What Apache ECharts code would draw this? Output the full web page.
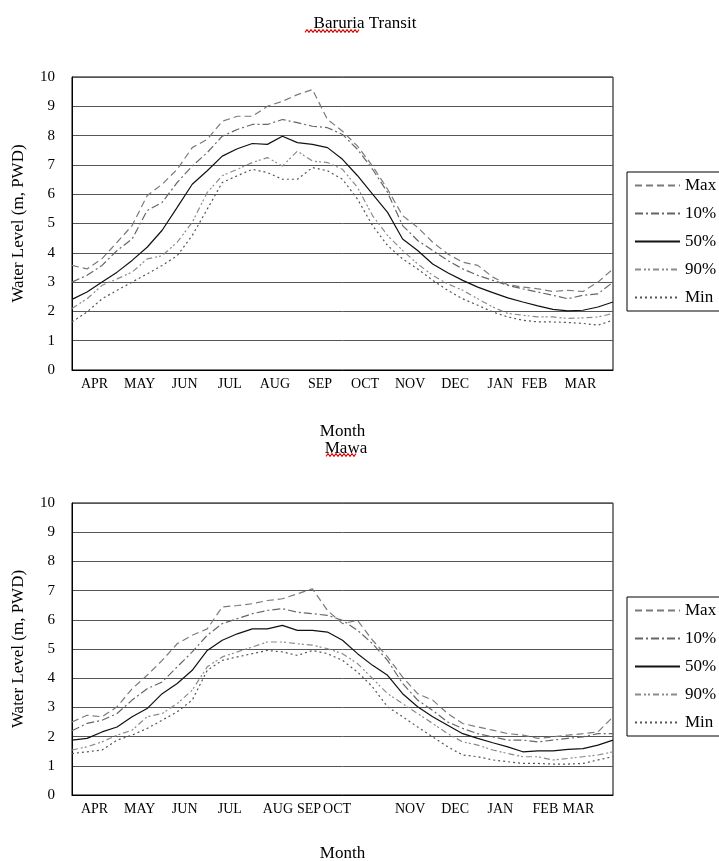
<!DOCTYPE html>
<html>
<head>
<meta charset="utf-8">
<script src="https://cdn.jsdelivr.net/npm/echarts@6/dist/echarts.min.js"></script>
<style>html,body{margin:0;background:#fff}#chart{width:719px;height:861px}</style>
</head>
<body>
<div id="chart"></div>
<script>
var months = ['APR','MAY','JUN','JUL','AUG','SEP','OCT','NOV','DEC','JAN','FEB','MAR'];
// readings every third of a month from 1 April
var steps = [0,1,2,3,4,5,6,7,8,9,10,11,12,13,14,15,16,17,18,19,20,21,22,23,24,25,26,27,28,29,30,31,32,33,34,35,36];
var seriesNames = ['Max','10%','50%','90%','Min'];

// Baruria Transit
var baruriaMax = [3.57,3.45,3.8,4.36,4.93,5.95,6.34,6.85,7.59,7.87,8.49,8.66,8.66,9.0,9.17,9.4,9.57,8.55,8.15,7.64,6.96,6.17,5.27,4.87,4.36,3.96,3.68,3.57,3.17,2.91,2.83,2.77,2.68,2.72,2.68,3.0,3.45];
var baruria10 = [3.0,3.23,3.57,4.08,4.47,5.44,5.72,6.4,6.96,7.42,7.98,8.21,8.38,8.38,8.55,8.44,8.32,8.27,8.04,7.53,6.85,6.06,4.93,4.42,4.08,3.74,3.45,3.23,3.06,2.89,2.77,2.66,2.55,2.43,2.55,2.6,3.0];
var baruria50 = [2.41,2.66,3.0,3.34,3.74,4.19,4.77,5.55,6.34,6.8,7.3,7.55,7.73,7.7,7.98,7.76,7.7,7.59,7.19,6.63,6.0,5.38,4.47,4.08,3.62,3.32,3.06,2.83,2.64,2.46,2.32,2.19,2.07,2.02,2.04,2.15,2.32];
var baruria90 = [2.1,2.43,2.89,3.11,3.34,3.79,3.9,4.36,5.04,6.06,6.63,6.85,7.08,7.25,6.96,7.47,7.13,7.08,6.85,6.23,5.27,4.59,4.08,3.62,3.23,2.94,2.72,2.43,2.15,1.93,1.87,1.81,1.81,1.76,1.78,1.81,1.93];
var baruriaMin = [1.64,1.98,2.43,2.72,3.0,3.28,3.57,3.9,4.59,5.49,6.4,6.63,6.85,6.74,6.51,6.51,6.91,6.8,6.51,5.83,4.93,4.25,3.79,3.45,3.06,2.72,2.43,2.21,1.98,1.81,1.7,1.64,1.64,1.62,1.59,1.53,1.7];

// Mawa
var mawaMax = [2.5,2.73,2.68,3.02,3.64,4.1,4.61,5.18,5.47,5.69,6.44,6.49,6.55,6.66,6.72,6.89,7.06,6.32,5.87,5.98,5.3,4.73,4.04,3.47,3.25,2.79,2.45,2.33,2.22,2.1,2.05,1.94,1.99,2.05,2.1,2.16,2.68];
var mawa10 = [2.2,2.45,2.56,2.79,3.25,3.64,3.87,4.39,4.9,5.47,5.87,6.04,6.21,6.32,6.38,6.26,6.21,6.15,5.98,5.64,5.18,4.61,3.82,3.25,2.9,2.5,2.28,2.1,1.99,1.88,1.88,1.82,1.88,1.94,1.99,2.1,2.1];
var mawa50 = [1.88,1.94,2.16,2.33,2.68,2.96,3.47,3.82,4.27,4.95,5.3,5.52,5.69,5.69,5.81,5.64,5.64,5.58,5.3,4.84,4.44,4.1,3.47,3.02,2.68,2.39,2.1,1.94,1.79,1.65,1.48,1.51,1.51,1.56,1.59,1.71,1.88];
var mawa90 = [1.54,1.65,1.82,2.05,2.22,2.68,2.79,3.13,3.59,4.39,4.73,4.9,5.07,5.24,5.24,5.18,5.13,5.01,4.84,4.5,3.99,3.47,3.13,2.79,2.45,2.1,1.82,1.71,1.54,1.42,1.31,1.31,1.2,1.25,1.31,1.37,1.48];
var mawaMin = [1.42,1.48,1.54,1.88,2.05,2.28,2.56,2.85,3.25,4.27,4.61,4.73,4.84,4.95,4.9,4.78,4.95,4.84,4.61,4.21,3.7,3.02,2.68,2.33,1.99,1.65,1.37,1.31,1.2,1.14,1.08,1.08,1.06,1.06,1.08,1.2,1.31];

// month labels are nudged left (px) like in the original figure
var topShift = [0,0,0,0,0,0,0,0,0,0,11,10];
var bottomShift = [0,0,0,0,-3,11,28,0,0,0,0,12];

var serif = '"Liberation Serif", "Times New Roman", serif';
var styles = {
    'Max': {color: '#7a7a7a', type: [7, 4]},
    '10%': {color: '#666', type: [8, 3, 2, 3]},
    '50%': {color: '#111', type: 'solid'},
    '90%': {color: '#8a8a8a', type: [6, 3, 2, 2, 2, 3]},
    'Min': {color: '#555', type: [2, 3]}
};

function labels(shift) {
    return months.map(function (m, i) {
        var s = shift[i];
        if (!s) return m;
        return {value: m, textStyle: {padding: s > 0 ? [0, 2 * s, 0, 0] : [0, 0, 0, -2 * s]}};
    });
}

function lines(values, xi, yi) {
    return seriesNames.map(function (name, i) {
        return {
            name: name, type: 'line', xAxisIndex: xi, yAxisIndex: yi,
            symbol: 'none', animation: false,
            lineStyle: {color: styles[name].color, width: 1.2, type: styles[name].type},
            itemStyle: {color: styles[name].color},
            data: steps.map(function (s, k) { return [s, values[i][k]]; })
        };
    });
}

function monthAxis(grid, shift, gap) {
    return {
        gridIndex: grid, type: 'category', data: labels(shift), boundaryGap: true,
        axisLine: {lineStyle: {color: '#000', width: 1}},
        axisTick: {inside: true, length: 5, lineStyle: {color: '#000'}},
        axisLabel: {color: '#000', fontFamily: serif, fontSize: 14, margin: 7, interval: 0},
        name: 'Month', nameLocation: 'middle', nameGap: gap,
        nameTextStyle: {color: '#000', fontFamily: serif, fontSize: 17}
    };
}

function levelAxis(grid) {
    return {
        gridIndex: grid, type: 'value', min: 0, max: 10, interval: 1,
        axisLine: {show: true, lineStyle: {color: '#000'}},
        axisTick: {show: false},
        splitLine: {lineStyle: {color: '#555', width: 1}},
        axisLabel: {color: '#000', fontFamily: serif, fontSize: 15, margin: 17},
        name: 'Water Level (m, PWD)', nameLocation: 'middle', nameGap: 45, nameRotate: 90,
        nameTextStyle: {color: '#000', fontFamily: serif, fontSize: 17}
    };
}

function legendBox(top) {
    return {
        data: seriesNames, orient: 'vertical', left: 627, top: top,
        itemWidth: 45, itemHeight: 12, itemGap: 11,
        padding: [5, 30, 5, 7], borderColor: '#000', borderWidth: 1,
        itemStyle: {opacity: 0},
        textStyle: {color: '#000', fontFamily: serif, fontSize: 17}
    };
}

function squiggle(x0, x1, y) {
    var pts = [];
    for (var x = x0, k = 0; x <= x1; x += 2, k++) pts.push([x, y + (k % 2 ? -1.3 : 1.3)]);
    return {type: 'polyline', shape: {points: pts}, style: {stroke: '#e00000', lineWidth: 1.1, fill: null}, silent: true};
}

var chart = echarts.init(document.getElementById('chart'));
chart.setOption({
    backgroundColor: '#fff',
    animation: false,
    title: [
        {text: 'Baruria Transit', left: 360, top: 10, textAlign: 'center',
         textStyle: {fontFamily: serif, fontSize: 17, fontWeight: 'normal', color: '#000'}},
        {text: 'Mawa', left: 341, top: 435, textAlign: 'center',
         textStyle: {fontFamily: serif, fontSize: 17, fontWeight: 'normal', color: '#000'}}
    ],
    graphic: [squiggle(305, 360, 31), squiggle(326, 357, 455)],
    legend: [legendBox(172), legendBox(597)],
    grid: [
        {left: 72, top: 77, width: 541, height: 293, outerBoundsMode: 'none',
         show: true, borderColor: '#000', borderWidth: 1},
        {left: 72, top: 503, width: 541, height: 292, outerBoundsMode: 'none',
         show: true, borderColor: '#000', borderWidth: 1}
    ],
    xAxis: [
        monthAxis(0, topShift, 53),
        {gridIndex: 0, type: 'value', min: 0, max: 36, show: false},
        monthAxis(1, bottomShift, 50),
        {gridIndex: 1, type: 'value', min: 0, max: 36, show: false}
    ],
    yAxis: [levelAxis(0), levelAxis(1)],
    series: []
        .concat(lines([baruriaMax, baruria10, baruria50, baruria90, baruriaMin], 1, 0))
        .concat(lines([mawaMax, mawa10, mawa50, mawa90, mawaMin], 3, 1))
});
</script>
</body>
</html>
